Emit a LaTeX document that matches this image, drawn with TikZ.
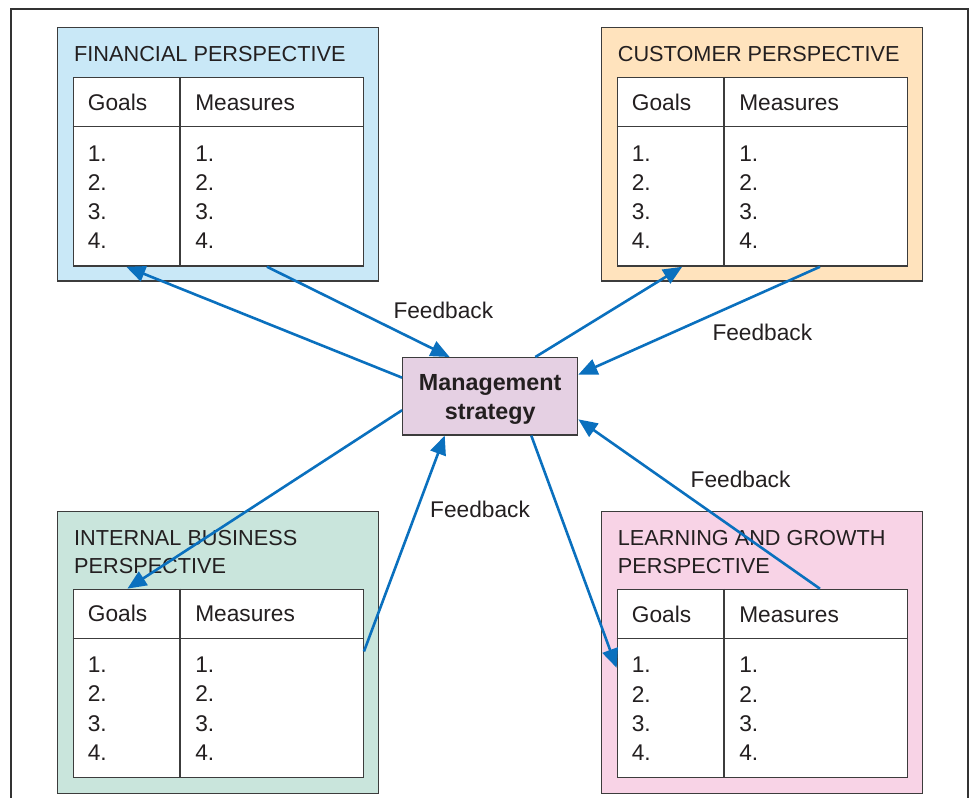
\documentclass[tikz,border=0pt]{standalone}
\usepackage{fontspec}
\setmainfont{Liberation Sans}
\usetikzlibrary{calc,arrows.meta}
\definecolor{finfill}{HTML}{C9E8F7}
\definecolor{cusfill}{HTML}{FFE3BD}
\definecolor{intfill}{HTML}{C9E5DC}
\definecolor{lrnfill}{HTML}{F8D3E6}
\definecolor{msfill}{HTML}{E5D0E3}
\definecolor{arrowblue}{HTML}{0A70BE}
\definecolor{edgegray}{HTML}{3C3C3C}
\definecolor{framegray}{HTML}{333333}
\definecolor{txt}{HTML}{231F20}
\tikzset{
  panel/.style={draw=edgegray, line width=1.3pt, rectangle, inner sep=0pt, minimum width=321pt},
  tablebox/.style={draw=edgegray, fill=white, line width=1.3pt, rectangle, inner sep=0pt, minimum width=290pt, minimum height=188.4pt},
  lbl/.style={inner sep=0pt, anchor=base west, font=\fontsize{22.7}{26}\selectfont, text=txt},
  ttl/.style={inner sep=0pt, anchor=base west, font=\fontsize{21.7}{26}\selectfont, text=txt},
  msl/.style={inner sep=0pt, anchor=base, font=\bfseries\fontsize{23.3}{27}\selectfont, text=txt},
  conn/.style={draw=arrowblue, line width=2.6pt, -{Triangle[length=19pt,width=16pt]}},
  tablerule/.style={draw=edgegray, line width=1.3pt},
  frameline/.style={draw=framegray, line width=1.4pt},
}
\begin{document}
\begin{tikzpicture}[x=1pt,y=-1pt]
\path[use as bounding box] (0,0) rectangle (970,798);
\draw[frameline] (11,798) -- (11,9) -- (968,9) -- (968,798);

% panels
\node[panel, fill=finfill, minimum height=253.7pt] (finP) at (218.2,154.2) {};
\node[panel, fill=cusfill, minimum height=253.7pt] (cusP) at (762,154.2) {};
\node[panel, fill=intfill, minimum height=281.6pt] (intP) at (218.2,652.5) {};
\node[panel, fill=lrnfill, minimum height=281.6pt] (lrnP) at (762,652.4) {};

% tables
\node[tablebox] (finT) at (218.3,171.9) {};
\node[tablebox] (cusT) at (762.3,171.9) {};
\node[tablebox] (intT) at (218.3,683.5) {};
\node[tablebox] (lrnT) at (762.3,683.6) {};

\foreach \t in {finT,cusT,intT,lrnT}{
  \draw[tablerule] ($(\t.north west)!0.262!(\t.south west)$) -- ($(\t.north east)!0.262!(\t.south east)$);
  \draw[tablerule] ($(\t.north west)!0.369!(\t.north east)$) -- ($(\t.south west)!0.369!(\t.south east)$);
  \node[lbl] (\t-goals) at ($(\t.north west)+(15,33.3)$) {Goals};
  \node[lbl] (\t-meas) at ($(\t.north west)+(122.4,33.3)$) {Measures};
  \foreach \i in {1,...,4}{
    \node[lbl] (\t-g\i) at ($(\t.north west)+(15,{84+29.3*(\i-1)})$) {\i.};
    \node[lbl] (\t-m\i) at ($(\t.north west)+(122.4,{84+29.3*(\i-1)})$) {\i.};
  }
}

% titles
\node[ttl] (finTitle) at (74,61.7) {FINANCIAL PERSPECTIVE};
\node[ttl] (cusTitle) at (617.7,61.7) {CUSTOMER PERSPECTIVE};
\node[ttl] (intTitleA) at (74,545.7) {INTERNAL BUSINESS};
\node[ttl] (intTitleB) at (74,573.3) {PERSPECTIVE};
\node[ttl] (lrnTitleA) at (617.7,545.7) {LEARNING AND GROWTH};
\node[ttl] (lrnTitleB) at (617.7,573.3) {PERSPECTIVE};

% management strategy
\node[draw=edgegray, fill=msfill, line width=1.3pt, rectangle, inner sep=0pt,
      minimum width=175pt, minimum height=77.3pt] (ms) at (490.2,396.3) {};
\node[msl] (msA) at (490.2,390) {Management};
\node[msl] (msB) at (490.2,419.5) {strategy};

% feedback labels
\node[lbl] (fb1) at (393.3,318.3) {Feedback};
\node[lbl] (fb2) at (712.3,340.7) {Feedback};
\node[lbl] (fb3) at (430,517.3) {Feedback};
\node[lbl] (fb4) at (690.5,487.5) {Feedback};

% connectors
\draw[conn] ($(ms.north west)!0.263!(ms.south west)$) -- ($(finT.south west)!0.184!(finT.south east)$);
\draw[conn] ($(finT.south west)!0.667!(finT.south east)$) -- ($(ms.north west)!0.27!(ms.north east)$);
\draw[conn] ($(ms.north west)!0.756!(ms.north east)$) -- ($(cusT.south west)!0.225!(cusT.south east)$);
\draw[conn] ($(cusT.south west)!0.698!(cusT.south east)$) -- ($(ms.north east)!0.224!(ms.south east)$);
\draw[conn] ($(ms.north west)!0.677!(ms.south west)$) -- ($(intT.north west)!0.188!(intT.north east)$);
\draw[conn] ($(intT.north east)!0.331!(intT.south east)$) -- ($(ms.south west)!0.242!(ms.south east)$);
\draw[conn] ($(ms.south west)!0.733!(ms.south east)$) -- ($(lrnT.north west)!0.417!(lrnT.south west)$);
\draw[conn] ($(lrnT.north west)!0.698!(lrnT.north east)$) -- ($(ms.north east)!0.793!(ms.south east)$);
\end{tikzpicture}
\end{document}
